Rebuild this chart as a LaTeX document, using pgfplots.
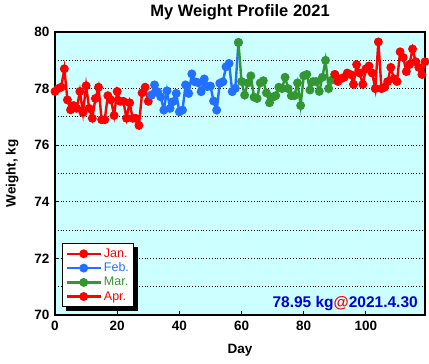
\documentclass[border=0pt]{standalone}
\usepackage{fontspec}
\setmainfont{Liberation Sans}
\usepackage{pgfplots}
\pgfplotsset{compat=1.18}
\definecolor{bgc}{RGB}{204,255,255}
\definecolor{cjan}{RGB}{255,0,0}
\definecolor{cfeb}{RGB}{34,112,255}
\definecolor{cmar}{RGB}{51,150,51}
\definecolor{capr}{RGB}{255,0,0}
\definecolor{annb}{RGB}{0,0,210}
\begin{document}
\begin{tikzpicture}
\useasboundingbox (-55pt,-49pt) rectangle (374pt,315pt);
\begin{axis}[
  at={(0pt,0pt)}, anchor=south west,
  scale only axis, width=370pt, height=283pt,
  xmin=0, xmax=119, ymin=70, ymax=80,
  clip=false,
  axis background/.style={fill=bgc},
  xtick={0,20,...,100}, ytick={70,72,...,80},
  minor ytick={71,73,...,79},
  ymajorgrids, yminorgrids,
  grid style={dotted, black, line width=0.8pt},
  major grid style={dotted, black, line width=0.8pt},
  minor grid style={dotted, black, line width=0.8pt},
  tick align=inside, tick pos=left,
  major tick length=4pt, minor tick length=0pt,
  tick style={black, line width=1pt},
  axis line style={black, line width=1.3pt},
  /pgf/number format/assume math mode=true,
  tick label style={font=\bfseries\fontsize{13.5}{16}\selectfont},
  xticklabel style={yshift=-3pt},
  yticklabel style={xshift=-2pt},
  title={My Weight Profile 2021},
  title style={font=\bfseries\fontsize{16.5}{19}\selectfont, at={(0.5,1)}, anchor=south, yshift=2pt},
  xlabel={Day},
  xlabel style={font=\bfseries\fontsize{13.5}{16}\selectfont, at={(axis description cs:0.5,-0.124)}, anchor=center},
  ylabel={Weight, kg},
  ylabel style={font=\bfseries\fontsize{13.5}{16}\selectfont, at={(axis description cs:-0.116,0.5)}, anchor=center},
  every axis plot/.append style={line width=2.4pt, mark=*, mark size=3.2pt, mark options={solid}},
  legend style={name=leg, at={(0.019,0.028)}, anchor=south west, draw=black, line width=1pt, fill=white,
    font=\fontsize{12.5}{14}\selectfont,
    inner xsep=3pt, inner ysep=3pt, row sep=0pt, cells={anchor=west}},
  legend image code/.code={\draw[mark repeat=2,mark phase=2,#1] plot coordinates {(0pt,0pt) (17pt,0pt) (34pt,0pt)};},
]
\addplot[color=cjan] table {
0 77.90
1 78.00
2 78.05
3 78.70
4 77.60
5 77.25
6 77.40
7 77.30
8 77.90
9 77.15
10 78.10
11 77.30
12 76.95
13 77.65
14 78.05
15 76.90
16 76.90
17 77.75
18 77.60
19 77.05
20 77.90
21 77.55
22 77.55
23 76.95
24 77.50
25 76.95
26 76.95
27 76.70
28 77.85
29 78.05
30 77.55
31 77.77
};
\addlegendentry{\textcolor{cjan}{Jan.}}
\addplot[color=cfeb] table {
31 77.77
32 78.13
33 77.89
34 77.71
35 77.24
36 77.92
37 77.30
38 77.54
39 77.83
40 77.18
41 77.24
42 78.13
43 77.83
44 78.52
45 78.24
46 78.21
47 77.89
48 78.34
49 78.07
50 78.09
51 77.56
52 77.24
53 78.19
54 78.24
55 78.77
56 78.89
57 77.89
58 78.01
59 79.63
};
\addlegendentry{\textcolor{cfeb}{Feb.}}
\addplot[color=cmar] table {
59 79.63
60 78.25
61 77.77
62 78.20
63 78.45
64 77.70
65 77.65
66 78.20
67 78.28
68 77.85
69 77.50
70 77.70
71 77.75
72 78.05
73 78.00
74 78.40
75 78.00
76 77.75
77 77.75
78 78.20
79 77.40
80 78.45
81 78.50
82 77.95
83 78.25
84 78.25
85 77.90
86 78.40
87 79.00
88 78.00
89 78.30
90 78.50
};
\addlegendentry{\textcolor{cmar}{Mar.}}
\addplot[color=capr] table {
90 78.50
91 78.25
92 78.35
93 78.40
94 78.55
95 78.50
96 78.15
97 78.85
98 78.55
99 78.15
100 78.70
101 78.80
102 78.55
103 78.00
104 79.65
105 78.00
106 78.05
107 78.25
108 78.75
109 78.35
110 78.25
111 79.30
112 79.10
113 78.60
114 78.85
115 79.40
116 78.95
117 78.75
118 78.50
119 78.95
};
\addlegendentry{\textcolor{capr}{Apr.}}
\node[anchor=base east, inner sep=0pt, font=\bfseries\fontsize{15.5}{18}\selectfont] at (rel axis cs:0.981,0.025)
  {\textcolor{annb}{78.95 kg}\textcolor{red}{@}\textcolor{annb}{2021.4.30}};
\end{axis}
\fill[black] ([yshift=-4pt]leg.north east) rectangle ([xshift=4pt,yshift=-4pt]leg.south east);
\fill[black] ([xshift=4pt]leg.south west) rectangle ([xshift=4pt,yshift=-4pt]leg.south east);
\end{tikzpicture}
\end{document}
